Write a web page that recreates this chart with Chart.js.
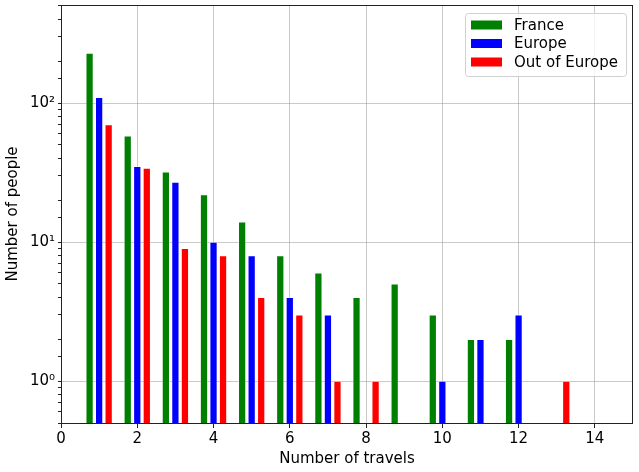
<!DOCTYPE html>
<html>
  <body style="margin: 0; background: #fff">
    <div style="width: 639px; height: 472px">
      <canvas id="travelChart"></canvas>
    </div>

    <script src="https://cdn.jsdelivr.net/npm/chart.js"></script>

    <script>
      // number of travels 1..13
      const travels = [1, 2, 3, 4, 5, 6, 7, 8, 9, 10, 11, 12, 13];
      const france = [229, 58, 32, 22, 14, 8, 6, 4, 5, 3, 2, 2, 0];
      const europe = [110, 35, 27, 10, 8, 4, 3, 0, 0, 1, 2, 3, 0];
      const outOfEurope = [70, 34, 9, 8, 4, 3, 1, 1, 0, 0, 0, 0, 1];
      const seriesNames = ["France", "Europe", "Out of Europe"];
      const seriesColors = ["#008000", "#0000ff", "#ff0000"];
      const offsets = [-0.25, 0, 0.25];
      const xTicks = [0, 2, 4, 6, 8, 10, 12, 14];

      const font = "DejaVu Sans";

      function points(values, off) {
        return travels
          .map((t, i) => ({ x: t + off, y: values[i] }))
          .filter((p) => p.y > 0);
      }

      const allSeries = [france, europe, outOfEurope];
      const datasets = allSeries.map((vals, i) => ({
        label: seriesNames[i],
        data: points(vals, offsets[i]),
        backgroundColor: seriesColors[i],
        borderColor: "rgba(255,255,255,0.35)",
        borderWidth: 1,
        grouped: false,
        barThickness: 7.6,
      }));

      const isMajor = (v) => Math.abs(Math.log10(v) - Math.round(Math.log10(v))) < 1e-9;
      const sup = { 0: "⁰", 1: "¹", 2: "²", 3: "³" };

      const frameAndLegend = {
        id: "frameAndLegend",
        afterDraw(chart) {
          const c = chart.ctx;
          const a = chart.chartArea;
          c.save();
          c.strokeStyle = "#222";
          c.lineWidth = 1;
          c.strokeRect(a.left + 0.5, a.top + 0.5, a.right - a.left - 1, a.bottom - a.top);

          // legend box in upper right
          const bx = a.right - 168, by = a.top + 8, bw = 161, bh = 63;
          c.fillStyle = "rgba(255,255,255,0.8)";
          c.strokeStyle = "#d0d0d0";
          c.beginPath();
          c.roundRect(bx + 0.5, by + 0.5, bw, bh, 3);
          c.fill();
          c.stroke();
          c.font = "15px '" + font + "'";
          c.textBaseline = "middle";
          seriesNames.forEach((name, i) => {
            const y = by + 12 + i * 18.5;
            c.fillStyle = seriesColors[i];
            c.fillRect(bx + 6, y - 4.5, 31, 9);
            c.fillStyle = "#000";
            c.fillText(name, bx + 49, y + 1);
          });
          c.restore();
        },
      };

      new Chart(document.getElementById("travelChart"), {
        type: "bar",
        data: { datasets: datasets },
        options: {
          responsive: true,
          maintainAspectRatio: false,
          animation: false,
          layout: { padding: { top: 5, right: 6, left: 0, bottom: 0 } },
          scales: {
            x: {
              type: "linear",
              min: 0,
              max: 15,
              offset: false,
              z: 1,
              afterFit: (s) => { s.height = 49; s.paddingLeft = 0; s.paddingRight = 0; },
              afterBuildTicks: (s) => { s.ticks = xTicks.map((v) => ({ value: v })); },
              ticks: {
                color: "#000",
                font: { family: font, size: 15 },
                padding: 2,
              },
              grid: {
                offset: false,
                color: "rgba(150,150,150,0.5)",
                tickColor: "#222",
                tickLength: 5,
              },
              border: { display: false },
              title: {
                display: true,
                text: "Number of travels",
                color: "#000",
                font: { family: font, size: 15 },
                padding: { top: 2, bottom: 4 },
              },
            },
            y: {
              type: "logarithmic",
              min: 0.5,
              max: 507,
              z: 1,
              afterFit: (s) => { s.width = 61; s.paddingTop = 0; s.paddingBottom = 0; },
              ticks: {
                color: "#000",
                font: { family: font, size: 15 },
                autoSkip: false,
                padding: 3,
                callback: function (v) {
                  if (!isMajor(v)) return "";
                  return "10" + sup[Math.round(Math.log10(v))];
                },
              },
              grid: {
                color: (ctx) => (ctx.tick && isMajor(ctx.tick.value) ? "rgba(150,150,150,0.5)" : "rgba(0,0,0,0)"),
                tickColor: "#222",
                tickLength: (ctx) => (ctx.tick && isMajor(ctx.tick.value) ? 5 : 3),
              },
              border: { display: false },
              title: {
                display: true,
                text: "Number of people",
                color: "#000",
                font: { family: font, size: 15 },
                padding: { top: 4, bottom: 0 },
              },
            },
          },
          plugins: {
            legend: { display: false },
            tooltip: { enabled: false },
          },
        },
        plugins: [frameAndLegend],
      });
    </script>
  </body>
</html>
